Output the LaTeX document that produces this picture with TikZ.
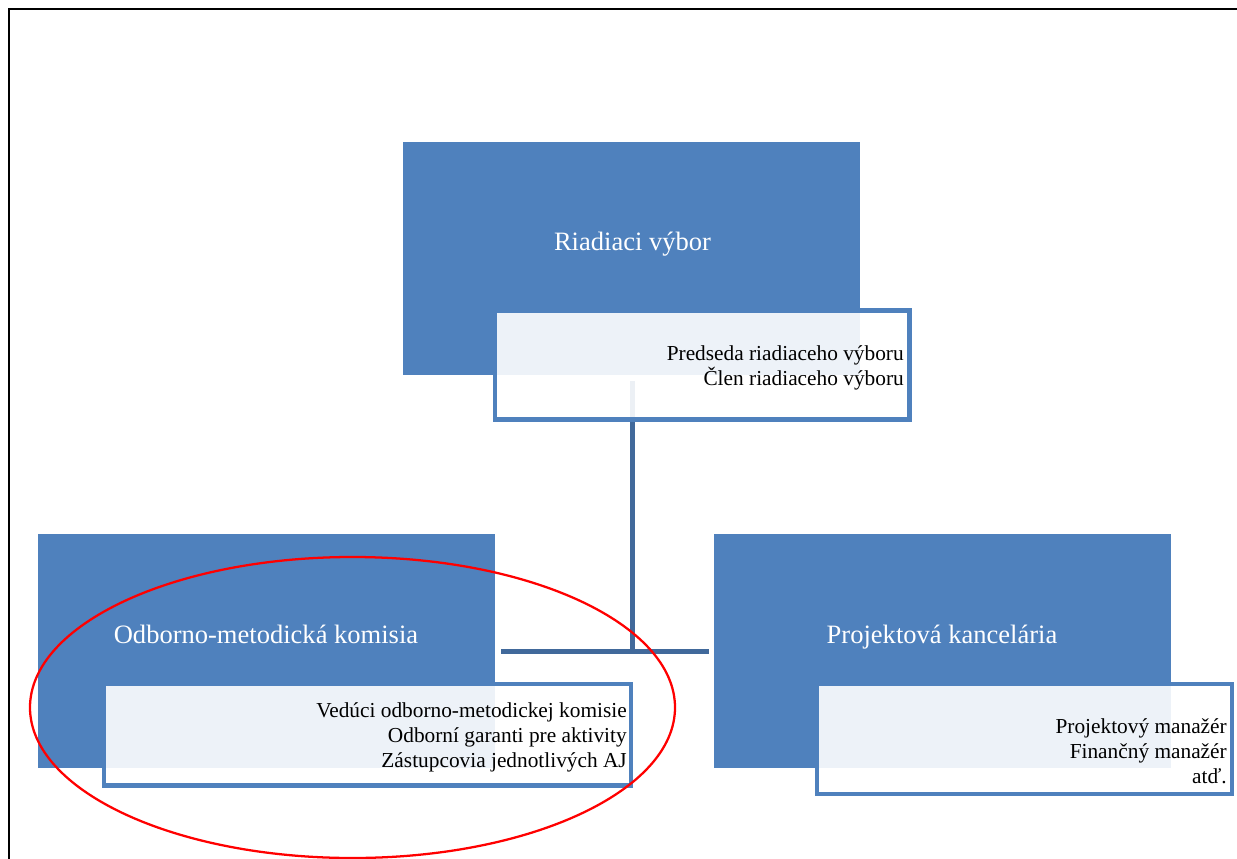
\documentclass[tikz,border=0pt]{standalone}
\usepackage{fontspec}
\setmainfont{Liberation Serif}
\definecolor{accent}{HTML}{4F81BD}
\definecolor{connblue}{HTML}{41699B}
\definecolor{ovalred}{HTML}{FF0000}
\begin{document}
\begin{tikzpicture}[x=0.75pt,y=-0.75pt,
  bluebox/.style={rectangle,fill=accent,draw=none,inner sep=0pt,outer sep=0pt,minimum width=342.75pt},
  subbox/.style={rectangle,draw=accent,line width=3.2pt,fill=white,fill opacity=0.9,inner sep=0pt,outer sep=0pt},
  headtext/.style={font=\fontsize{19.9}{24}\selectfont,text=white,inner sep=0pt,anchor=base},
  roletext/.style={font=\fontsize{16}{19}\selectfont,text=black,inner sep=0pt,anchor=base east},
  conn/.style={draw=connblue,line width=3.75pt},
  frameline/.style={draw=black,line width=1.5pt}]
\useasboundingbox (0,0) rectangle (1237,859);
\fill[white] (0,0) rectangle (1237,859);
% frame
\draw[frameline] (9.3,859) -- (9.3,9.3) -- (1237,9.3);
% connectors
\coordinate (ctop) at (632.5,381);
\coordinate (cmid) at (632.5,651);
\coordinate (cleft) at (501,651);
\coordinate (cright) at (709,651);
\draw[conn] (ctop) -- (cmid);
\draw[conn] (cleft) -- (cright);
% blue boxes
\node[bluebox,minimum height=174.75pt] (rv) at (631.5,258.5) {};
\node[bluebox,minimum height=175.5pt] (omk) at (266.5,651) {};
\node[bluebox,minimum height=175.5pt] (pk) at (942.5,651) {};
% sub boxes
\node[subbox,minimum width=311pt,minimum height=81.75pt] (rvsub) at (702.1,365) {};
\node[subbox,minimum width=395.25pt,minimum height=76.35pt] (omksub) at (367.5,734.6) {};
\node[subbox,minimum width=311.25pt,minimum height=82.7pt] (pksub) at (1024.5,738.85) {};
% headings
\node[headtext] (rvt) at (632.5,250) {Riadiaci výbor};
\node[headtext] (omkt) at (266,643) {Odborno-metodická komisia};
\node[headtext] (pkt) at (942,643) {Projektová kancelária};
% roles
\node[roletext] (r1) at (904,360) {Predseda riadiaceho výboru};
\node[roletext] (r2) at (904,385) {Člen riadiaceho výboru};
\node[roletext] (o1) at (627,717) {Vedúci odborno-metodickej komisie};
\node[roletext] (o2) at (627,742) {Odborní garanti pre aktivity};
\node[roletext] (o3) at (627,767) {Zástupcovia jednotlivých AJ};
\node[roletext] (p1) at (1227,733) {Projektový manažér};
\node[roletext] (p2) at (1227,758) {Finančný manažér};
\node[roletext] (p3) at (1227,783) {atď.};
% red oval
\draw[draw=ovalred,line width=1.7pt] (352.5,707.5) ellipse [x radius=322.5,y radius=150.5];
\end{tikzpicture}
\end{document}
